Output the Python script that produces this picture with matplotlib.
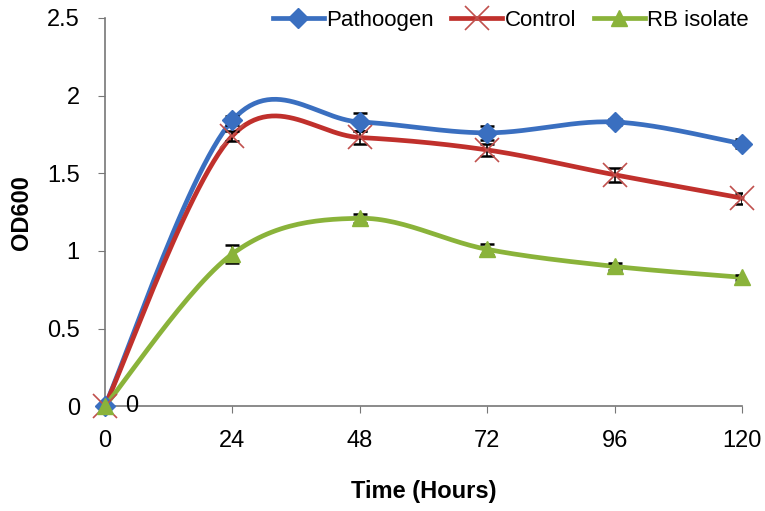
import numpy as np
import matplotlib.pyplot as plt
from matplotlib.lines import Line2D

plt.rcParams['font.family'] = ['Liberation Sans', 'DejaVu Sans']

hours = [0, 24, 48, 72, 96, 120]
pathogen = [0, 1.84, 1.83, 1.76, 1.83, 1.69]
pathogen_err = [0, 0.03, 0.06, 0.045, 0.02, 0.03]
control = [0, 1.74, 1.73, 1.65, 1.49, 1.34]
control_err = [0, 0.03, 0.04, 0.04, 0.045, 0.035]
rb_isolate = [0, 0.98, 1.21, 1.01, 0.90, 0.83]
rb_err = [0, 0.06, 0.03, 0.035, 0.025, 0.015]


def smooth(x, y, n=30):
    # Catmull-Rom style smoothing, like the spreadsheet "smoothed line"
    x = np.asarray(x, float)
    y = np.asarray(y, float)
    xs, ys = [], []
    for i in range(len(x) - 1):
        i0 = max(i - 1, 0)
        i3 = min(i + 2, len(x) - 1)
        p0 = np.array([x[i], y[i]])
        p3 = np.array([x[i + 1], y[i + 1]])
        p1 = p0 + (p3 - np.array([x[i0], y[i0]])) / 6
        p2 = p3 - (np.array([x[i3], y[i3]]) - p0) / 6
        t = np.linspace(0, 1, n)[:, None]
        pts = ((1 - t) ** 3 * p0 + 3 * (1 - t) ** 2 * t * p1
               + 3 * (1 - t) * t ** 2 * p2 + t ** 3 * p3)
        xs.extend(pts[:, 0])
        ys.extend(pts[:, 1])
    return np.array(xs), np.array(ys)


fig = plt.figure(figsize=(7.65, 5.11), dpi=100)
ax = fig.add_axes([0.137, 0.205, 0.833, 0.76])

blue = '#3a6fc0'
red = '#c0302c'
green = '#8ab33a'

series = [
    (pathogen, pathogen_err, blue, 'D', 'Pathoogen'),
    (control, control_err, red, 'x', 'Control'),
    (rb_isolate, rb_err, green, '^', 'RB isolate'),
]

handles = []
for vals, err, col, mk, lab in series:
    sx, sy = smooth(hours, vals)
    ax.plot(sx, sy, color=col, lw=3.4, zorder=2, clip_on=False)
    ax.errorbar(hours, vals, yerr=err, fmt='none', ecolor='black',
                elinewidth=1.2, capsize=5, capthick=1.8, zorder=3)
    if mk == 'x':
        ax.plot(hours, vals, ls='none', marker='x', ms=17, mew=1.2,
                color='#c0504d', zorder=4, clip_on=False)
        h = Line2D([], [], color=col, lw=3.4, marker='x', ms=17, mew=1.2,
                   mec='#c0504d')
    else:
        ms = 10 if mk == 'D' else 11
        ax.plot(hours, vals, ls='none', marker=mk, ms=ms, color=col,
                zorder=4, clip_on=False)
        h = Line2D([], [], color=col, lw=3.4, marker=mk, ms=ms)
    handles.append(h)

ax.text(3.8, 0, '0', fontsize=17, va='center', ha='left')

ax.set_xlim(0, 120)
ax.set_ylim(0, 2.5)
ax.set_xticks(hours)
ax.set_yticks([0, 0.5, 1, 1.5, 2, 2.5])
ax.set_yticklabels(['0', '0.5', '1', '1.5', '2', '2.5'])
ax.tick_params(labelsize=17, direction='out', length=5, color='#777777')
ax.tick_params(axis='y', pad=13)
ax.tick_params(axis='x', pad=12)
for s in ['top', 'right']:
    ax.spines[s].set_visible(False)
for s in ['left', 'bottom']:
    ax.spines[s].set_color('#777777')
    ax.spines[s].set_linewidth(1.2)
ax.set_xlabel('Time (Hours)', fontsize=17, fontweight='bold', labelpad=20)
ax.set_ylabel('OD600', fontsize=17, fontweight='bold', labelpad=10)

fig.legend(handles=handles, labels=[s[4] for s in series], loc='upper right',
           bbox_to_anchor=(1.005, 1.02), ncol=3, frameon=False, fontsize=16,
           handlelength=2.3, handletextpad=0.1, columnspacing=0.8)

fig.savefig('out.png', dpi=100)
